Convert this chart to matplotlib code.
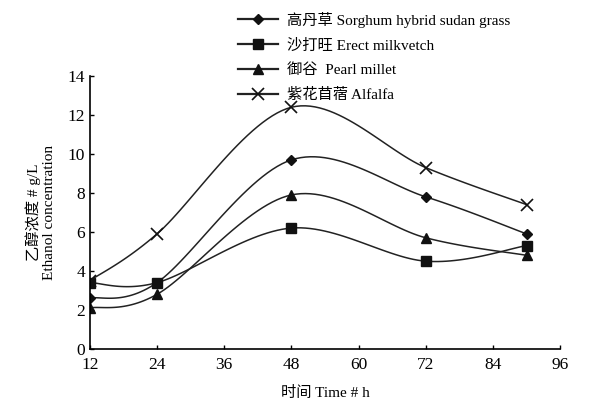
import numpy as np
import matplotlib
matplotlib.use("Agg")
from matplotlib import pyplot as plt

plt.rcParams['font.family'] = ['Liberation Serif', 'Noto Sans CJK SC']

hours = [12, 24, 48, 72, 90]
sorghum = [2.6, 3.4, 9.7, 7.8, 5.9]
milkvetch = [3.4, 3.4, 6.2, 4.5, 5.3]
millet = [2.1, 2.8, 7.9, 5.7, 4.8]
alfalfa = [3.5, 5.9, 12.4, 9.3, 7.4]

labels = ["高丹草 Sorghum hybrid sudan grass",
          "沙打旺 Erect milkvetch",
          "御谷  Pearl millet",
          "紫花苜蓿 Alfalfa"]
x_ticks = [12, 24, 36, 48, 60, 72, 84, 96]
y_ticks = [0, 2, 4, 6, 8, 10, 12, 14]


def smooth(x, y, sx=84.0, sy=14.0, n=30):
    # Catmull-Rom curve through the points, like a spreadsheet "smoothed line"
    p = np.column_stack([np.asarray(x, float) / sx, np.asarray(y, float) / sy])
    p = np.vstack([p[0], p, p[-1]])
    out = []
    t = np.linspace(0, 1, n)[:, None]
    for i in range(1, len(p) - 2):
        p0, p1, p2, p3 = p[i - 1], p[i], p[i + 1], p[i + 2]
        seg = 0.5 * ((2 * p1) + (-p0 + p2) * t + (2 * p0 - 5 * p1 + 4 * p2 - p3) * t ** 2
                     + (-p0 + 3 * p1 - 3 * p2 + p3) * t ** 3)
        out.append(seg)
    out = np.vstack(out)
    return out[:, 0] * sx, out[:, 1] * sy


fig = plt.figure(figsize=(5.91, 4.09), dpi=100)
ax = fig.add_axes([0.152, 0.147, 0.796, 0.667])

series = [sorghum, milkvetch, millet, alfalfa]
markers = ['D', 's', '^', 'x']
msizes = [5, 7, 7, 8]
handles = []
for vals, m, ms, lab in zip(series, markers, msizes, labels):
    sx, sy = smooth(hours, vals)
    ax.plot(sx, sy, color='#222222', lw=1.1)
    ax.plot(hours, vals, linestyle='none', marker=m, ms=ms, color='#111111',
            mew=1.2 if m == 'x' else 1)
    h, = ax.plot([], [], color='#222222', lw=1.6, marker=m, ms=ms, label=lab,
                 mew=1.2 if m == 'x' else 1, markerfacecolor='#111111', markeredgecolor='#111111')
    handles.append(h)

ax.set_xlim(12, 96)
ax.set_ylim(0, 14)
ax.set_xticks(x_ticks)
ax.set_yticks(y_ticks)
ax.tick_params(direction='in', length=3, labelsize=12.5, width=1)
ax.tick_params(axis='x', pad=6)
for s in ['top', 'right']:
    ax.spines[s].set_visible(False)
for s in ['left', 'bottom']:
    ax.spines[s].set_linewidth(1.2)

ax.set_xlabel("时间 Time # h", fontsize=11, labelpad=9)
ax.set_ylabel("乙醇浓度 # g/L\nEthanol concentration", fontsize=11, labelpad=8)

fig.legend(handles=handles, loc='upper left', bbox_to_anchor=(0.385, 0.998),
           frameon=False, fontsize=11, handlelength=2.6, labelspacing=0.72,
           handletextpad=0.6, borderpad=0.2)

fig.savefig("out.png", dpi=100)
